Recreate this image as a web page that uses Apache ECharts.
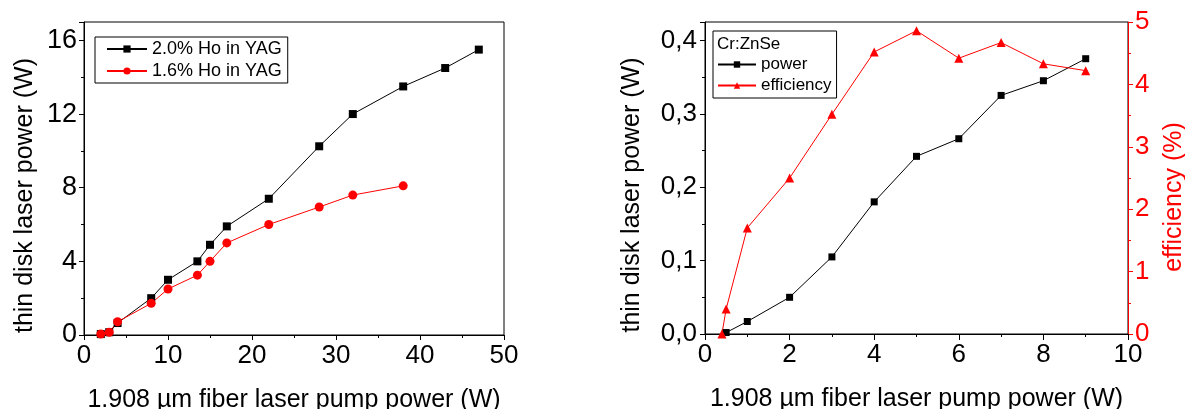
<!DOCTYPE html>
<html>
<head>
<meta charset="utf-8">
<script src="https://cdn.jsdelivr.net/npm/echarts@6/dist/echarts.min.js"></script>
<style>
  html, body { margin: 0; padding: 0; background: #fff; }
  #canvas { width: 1185px; height: 409px; }
</style>
</head>
<body>
<div id="canvas"></div>
<script>
// left panel: Ho:YAG thin disk
var ho20_pump = [2, 3, 4, 8, 10, 13.5, 15, 17, 22, 28, 32, 38, 43, 47];
var ho20_power = [0.05, 0.15, 0.65, 2.0, 3.0, 4.0, 4.9, 5.9, 7.4, 10.25, 12.0, 13.5, 14.5, 15.5];
var ho16_pump = [2, 3, 4, 8, 10, 13.5, 15, 17, 22, 28, 32, 38];
var ho16_power = [0.05, 0.15, 0.72, 1.72, 2.5, 3.25, 4.0, 5.0, 6.0, 6.95, 7.6, 8.1];

// right panel: Cr:ZnSe
var cr_pump = [0.5, 1, 2, 3, 4, 5, 6, 7, 8, 9];
var cr_power = [0.002, 0.017, 0.05, 0.105, 0.18, 0.242, 0.266, 0.325, 0.345, 0.375];
var eff_pump = [0.4, 0.5, 1, 2, 3, 4, 5, 6, 7, 8, 9];
var eff_values = [0, 0.4, 1.7, 2.5, 3.52, 4.52, 4.86, 4.42, 4.67, 4.33, 4.22];

var x_title = '1.908 µm fiber laser pump power (W)';
var y_title = 'thin disk laser power (W)';
var eff_title = 'efficiency (%)';

var FONT = "'Liberation Sans', Arial, sans-serif";

var zip = function(xs, ys) {
    var out = [];
    for (var i = 0; i < xs.length; i++) out.push([xs[i], ys[i]]);
    return out;
}

var comma = function(v) {
    return v.toFixed(1).replace('.', ',');
}

var axisBase = function(color) {
    return {
        axisLine: {show: true, onZero: false, lineStyle: {color: color, width: 1}},
        axisTick: {show: true, inside: false, length: 5, lineStyle: {color: color}},
        minorTick: {show: true, splitNumber: 2, length: 3, lineStyle: {color: color}},
        splitLine: {show: false},
        nameTextStyle: {fontFamily: FONT, fontSize: 25, color: color},
        nameLocation: 'middle'
    };
}

var merge = function(a, b) {
    for (var k in b) a[k] = b[k];
    return a;
}

// vertical titles sit a bit below the plot centre in the original
var shiftDown = {fontFamily: FONT, fontSize: 25, color: '#000', padding: [0, 34, 0, 0]};

var myChart = echarts.init(document.getElementById('canvas'));

var option = {
    animation: false,
    backgroundColor: '#fff',
    textStyle: {fontFamily: FONT},
    grid: [
        {left: 84, top: 22, width: 420, height: 313, outerBoundsMode: 'none', containLabel: false,
         show: true, borderColor: '#000', borderWidth: 1, backgroundColor: 'transparent'},
        {left: 705, top: 22, width: 423, height: 312, outerBoundsMode: 'none', containLabel: false,
         show: true, borderColor: '#000', borderWidth: 1, backgroundColor: 'transparent'}
    ],
    xAxis: [
        merge(axisBase('#000'), {
            type: 'value', gridIndex: 0, min: 0, max: 50, interval: 10,
            name: x_title, nameGap: 53,
            axisLabel: {color: '#000', fontSize: 26, fontFamily: FONT, margin: 8}
        }),
        merge(axisBase('#000'), {
            type: 'value', gridIndex: 1, min: 0, max: 10, interval: 2,
            name: x_title, nameGap: 53,
            axisLabel: {color: '#000', fontSize: 26, fontFamily: FONT, margin: 8}
        }),
        {
            type: 'value', gridIndex: 1, position: 'top', min: 0, max: 10, interval: 2,
            axisLine: {show: true, lineStyle: {color: '#000'}},
            axisTick: {show: true, inside: true, length: 6, lineStyle: {color: '#000'}},
            minorTick: {show: true, splitNumber: 2, length: 3, lineStyle: {color: '#000'}},
            axisLabel: {show: false},
            splitLine: {show: false}
        }
    ],
    yAxis: [
        merge(axisBase('#000'), {
            type: 'value', gridIndex: 0, min: 0, max: 17, interval: 4,
            name: y_title, nameGap: 46, nameTextStyle: shiftDown,
            axisLabel: {color: '#000', fontSize: 27, fontFamily: FONT, margin: 7, showMaxLabel: false}
        }),
        merge(axisBase('#000'), {
            type: 'value', gridIndex: 1, min: 0, max: 0.425, interval: 0.1,
            name: y_title, nameGap: 60, nameTextStyle: shiftDown,
            axisLabel: {color: '#000', fontSize: 26, fontFamily: FONT, margin: 8, showMaxLabel: false, formatter: comma}
        }),
        merge(axisBase('#ff0000'), {
            type: 'value', gridIndex: 1, position: 'right', min: 0, max: 5, interval: 1,
            name: eff_title, nameGap: 34, nameRotate: 90,
            nameTextStyle: {fontFamily: FONT, fontSize: 25, color: '#ff0000', padding: [0, 38, 0, 0]},
            axisLabel: {color: '#ff0000', fontSize: 26, fontFamily: FONT, margin: 7}
        })
    ],
    legend: [
        {
            left: 95, top: 37, orient: 'vertical',
            data: ['2.0% Ho in YAG', '1.6% Ho in YAG'],
            itemWidth: 40, itemHeight: 9, itemGap: 4,
            padding: [3, 6, 3, 11],
            borderColor: '#000', borderWidth: 1,
            textStyle: {fontFamily: FONT, fontSize: 18, color: '#000'}
        },
        {
            left: 713, top: 31, orient: 'vertical',
            data: ['power', 'efficiency'],
            itemWidth: 38, itemHeight: 8, itemGap: 4,
            padding: [25, 5, 4, 4],
            borderColor: '#000', borderWidth: 1,
            textStyle: {fontFamily: FONT, fontSize: 17, color: '#000'}
        }
    ],
    graphic: [
        {type: 'text', left: 717, top: 36, style: {text: 'Cr:ZnSe', font: '17px ' + FONT, fill: '#000'}}
    ],
    series: [
        {
            name: '2.0% Ho in YAG', type: 'line', xAxisIndex: 0, yAxisIndex: 0,
            data: zip(ho20_pump, ho20_power),
            symbol: 'rect', symbolSize: 8,
            itemStyle: {color: '#000'}, lineStyle: {color: '#000', width: 1}
        },
        {
            name: '1.6% Ho in YAG', type: 'line', xAxisIndex: 0, yAxisIndex: 0,
            data: zip(ho16_pump, ho16_power),
            symbol: 'circle', symbolSize: 9,
            itemStyle: {color: '#ff0000'}, lineStyle: {color: '#ff0000', width: 1}
        },
        {
            name: 'power', type: 'line', xAxisIndex: 1, yAxisIndex: 1,
            data: zip(cr_pump, cr_power),
            symbol: 'rect', symbolSize: 7,
            itemStyle: {color: '#000'}, lineStyle: {color: '#000', width: 1}
        },
        {
            name: 'efficiency', type: 'line', xAxisIndex: 1, yAxisIndex: 2,
            data: zip(eff_pump, eff_values),
            symbol: 'triangle', symbolSize: 9,
            itemStyle: {color: '#ff0000'}, lineStyle: {color: '#ff0000', width: 1}
        }
    ]
};
myChart.setOption(option);
</script>
</body>
</html>
